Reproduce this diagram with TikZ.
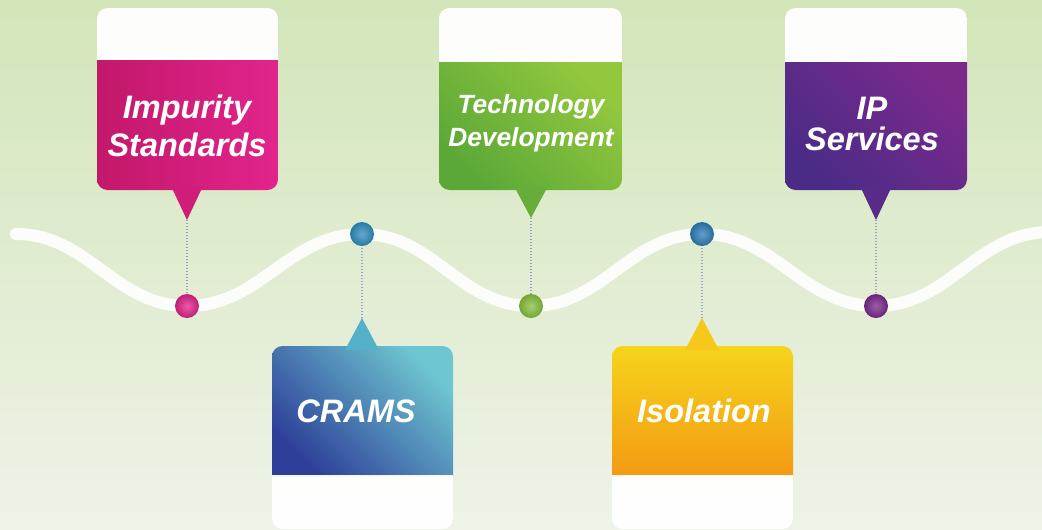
\documentclass[tikz,border=0pt]{standalone}
\usepackage{fontspec}
\setmainfont{Liberation Sans}
\usetikzlibrary{calc, positioning}
\definecolor{bgtop}{HTML}{D3E5B9}
\definecolor{bgbot}{HTML}{EEF3E8}
\definecolor{impA}{HTML}{C2186A}
\definecolor{impB}{HTML}{E2248C}
\definecolor{tecA}{HTML}{5BA838}
\definecolor{tecB}{HTML}{93C83E}
\definecolor{ipA}{HTML}{4A2B86}
\definecolor{ipB}{HTML}{7B2A8C}
\definecolor{craA}{HTML}{2D3F98}
\definecolor{craB}{HTML}{6EC6D0}
\definecolor{craM}{HTML}{2F8FC0}
\definecolor{isoA}{HTML}{F39A13}
\definecolor{isoB}{HTML}{F6D41B}
\definecolor{guidec}{HTML}{98A3C6}

\begin{document}
\begin{tikzpicture}[x=0.02cm, y=-0.02cm,
  wave/.style={white, line width=0.24cm, line cap=round, opacity=.92},
  header/.style={fill=white, fill opacity=.96},
  guide/.style={densely dotted, line width=.7pt, color=guidec},
  bead/.style={circle, inner sep=0pt, minimum size=0.48cm, inner color=#1!75!white, outer color=#1!85!black},
  lbl/.style={text=white, font=\bfseries\itshape\fontsize{18.5}{22}\selectfont, align=center}]
\useasboundingbox (0,0) rectangle (1042,529);
\clip (0,0) rectangle (1042,529);
\shade[top color=bgtop, bottom color=bgbot] (0,0) rectangle (1042,529);

\coordinate (w0) at (16,234);
\coordinate (d1) at (187,306);
\coordinate (d2) at (362,234);
\coordinate (d3) at (531,306);
\coordinate (d4) at (702,234);
\coordinate (d5) at (876,306);
\coordinate (w6) at (1050,232);
\draw[wave] (w0) to[out=0,in=180] (d1) to[out=0,in=180] (d2) to[out=0,in=180] (d3)
  to[out=0,in=180] (d4) to[out=0,in=180] (d5) to[out=0,in=180] (w6);

\node[bead=impB] (impdot) at (d1) {};
\node[bead=craM] (cradot) at (d2) {};
\node[bead=tecB!80!tecA] (tecdot) at (d3) {};
\node[bead=craM!80!craA] (isodot) at (d4) {};
\node[bead=ipB] (ipdot) at (d5) {};

% Impurity Standards
\begin{scope}
\clip[rounded corners=6pt] (97,8) rectangle (278,190);
\fill[header] (97,8) rectangle (278,61);
\shade[left color=impA, right color=impB] (97,60) rectangle (278,190);
\end{scope}
\coordinate (imptip) at (187,220);
\fill[impA!60!impB] (imptip) -- ++(-16,-34) -- ++(32,0) -- cycle;
\node[lbl] (imp) at (187,126) {Impurity\\Standards};
\draw[guide] (imptip) -- (impdot);

% Technology Development
\begin{scope}
\clip[rounded corners=6pt] (439,8) rectangle (622,190);
\fill[header] (439,8) rectangle (622,63);
\shade[left color=tecA, right color=tecB, shading angle=135] (439,62) rectangle (622,190);
\end{scope}
\coordinate (tectip) at (531,218);
\fill[tecA!80!tecB] (tectip) -- ++(-17,-32) -- ++(34,0) -- cycle;
\node[lbl, font=\bfseries\itshape\fontsize{15}{19}\selectfont] (tec) at (531,123) {Technology\\Development};
\draw[guide] (tectip) -- (tecdot);

% IP Services
\begin{scope}
\clip[rounded corners=6pt] (785,8) rectangle (967,190);
\fill[header] (785,8) rectangle (967,63);
\shade[left color=ipA, right color=ipB, shading angle=135] (785,62) rectangle (967,190);
\end{scope}
\coordinate (iptip) at (876,220);
\fill[ipA!70!ipB] (iptip) -- ++(-16,-34) -- ++(32,0) -- cycle;
\node[lbl, font=\bfseries\itshape\fontsize{18.5}{18}\selectfont] (ip) at (872,124) {IP\\Services};
\draw[guide] (iptip) -- (ipdot);

% CRAMS
\begin{scope}
\clip[rounded corners=6pt] (272,346) rectangle (453,529);
\shade[left color=craA, right color=craB, shading angle=135] (272,346) rectangle (453,476);
\fill[header] (272,475) rectangle (453,529);
\end{scope}
\coordinate (cratip) at (362,318);
\fill[craB!60!craM] (cratip) -- ++(-17,32) -- ++(34,0) -- cycle;
\node[lbl] (cra) at (356,411) {CRAMS};
\draw[guide] (cratip) -- (cradot);

% Isolation
\begin{scope}
\clip[rounded corners=6pt] (612,346) rectangle (793,529);
\shade[top color=isoB, bottom color=isoA] (612,346) rectangle (793,476);
\fill[header] (612,475) rectangle (793,529);
\end{scope}
\coordinate (isotip) at (702,318);
\fill[isoB!80!isoA] (isotip) -- ++(-17,32) -- ++(34,0) -- cycle;
\node[lbl] (iso) at (704,411) {Isolation};
\draw[guide] (isotip) -- (isodot);
\end{tikzpicture}
\end{document}
